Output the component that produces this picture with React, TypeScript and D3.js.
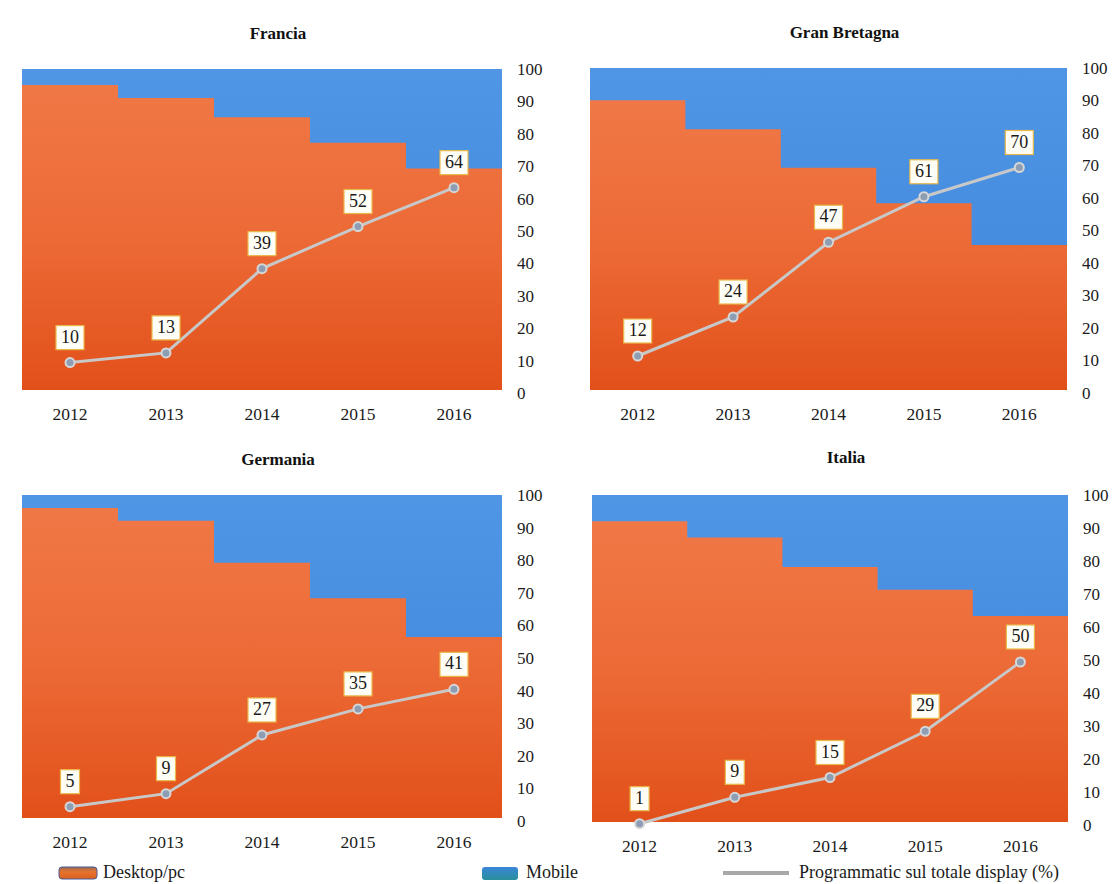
import React from "react";
import * as d3 from "d3";

const years = ["2012", "2013", "2014", "2015", "2016"];
const yTicks = [0, 10, 20, 30, 40, 50, 60, 70, 80, 90, 100];

const franciaDesktop = [95, 91, 85, 77, 69];
const franciaProg = [10, 13, 39, 52, 64];
const gbDesktop = [90, 81, 69, 58, 45];
const gbProg = [12, 24, 47, 61, 70];
const germaniaDesktop = [96, 92, 79, 68, 56];
const germaniaProg = [5, 9, 27, 35, 41];
const italiaDesktop = [92, 87, 78, 71, 63];
const italiaProg = [1, 9, 15, 29, 50];

const legendLabels = ["Desktop/pc", "Mobile", "Programmatic sul totale display (%)"];

const panels = [
  { title: "Francia", desktop: franciaDesktop, prog: franciaProg, x: 22, y: 69, w: 480, h: 321, titleY: 35 },
  { title: "Gran Bretagna", desktop: gbDesktop, prog: gbProg, x: 590, y: 68, w: 477, h: 322, titleY: 34 },
  { title: "Germania", desktop: germaniaDesktop, prog: germaniaProg, x: 22, y: 495, w: 480, h: 323, titleY: 461 },
  { title: "Italia", desktop: italiaDesktop, prog: italiaProg, x: 592, y: 495, w: 476, h: 327, titleY: 459 },
];

const FONT = "'Liberation Serif', 'Times New Roman', serif";

function Panel({ p }: { p: any }) {
  const x = d3.scaleBand<string>().domain(years).range([p.x, p.x + p.w]).padding(0);
  const yArea = d3.scaleLinear().domain([0, 100]).range([p.y + p.h, p.y]);
  const yLine = d3.scaleLinear().domain([0, 100]).range([p.y + p.h + 5, p.y + 2]);
  const cx = (yr: string) => (x(yr) as number) + x.bandwidth() / 2;
  const line = d3
    .line<number>()
    .x((_, i) => cx(years[i]))
    .y((v) => yLine(v));
  const stepPts: [number, number][] = [];
  years.forEach((yr, i) => {
    const x0 = x(yr) as number;
    stepPts.push([x0, p.desktop[i]]);
    stepPts.push([x0 + x.bandwidth(), p.desktop[i]]);
  });
  const area = d3
    .area<[number, number]>()
    .x((d) => d[0])
    .y0(yArea(0))
    .y1((d) => yArea(d[1]));
  const right = p.x + p.w;
  return (
    <g>
      <text
        x={p.x + p.w / 2 + 16}
        y={p.titleY}
        textAnchor="middle"
        dominantBaseline="middle"
        fontFamily={FONT}
        fontWeight="bold"
        fontSize={17}
        fill="#111"
      >
        {p.title}
      </text>
      <rect x={p.x} y={yArea(100)} width={p.w} height={yArea(0) - yArea(100)} fill="url(#gradBlue)" />
      <path d={area(stepPts) || ""} fill="url(#gradOrange)" />
      <path d={line(p.prog) || ""} fill="none" stroke="#c8c8c8" strokeWidth={3} />
      {p.prog.map((v: number, i: number) => (
        <circle key={i} cx={cx(years[i])} cy={yLine(v)} r={4.5} fill="#8d9db3" stroke="#d6d6d6" strokeWidth={2} />
      ))}
      {p.prog.map((v: number, i: number) => {
        const s = String(v);
        const bw = s.length === 1 ? 19 : 28;
        const bh = 24;
        const by = yLine(v) - 25;
        return (
          <g key={"l" + i}>
            <rect
              x={cx(years[i]) - bw / 2}
              y={by - bh / 2}
              width={bw}
              height={bh}
              fill="#fffef6"
              stroke="#e9b84a"
              strokeWidth={1.2}
            />
            <text
              x={cx(years[i])}
              y={by + 1}
              textAnchor="middle"
              dominantBaseline="middle"
              fontFamily={FONT}
              fontSize={18}
              fill="#1a1a1a"
            >
              {s}
            </text>
          </g>
        );
      })}
      {years.map((yr) => (
        <text
          key={"x" + yr}
          x={cx(yr)}
          y={p.y + p.h + 26}
          textAnchor="middle"
          dominantBaseline="middle"
          fontFamily={FONT}
          fontSize={17.5}
          fill="#1a1a1a"
        >
          {yr}
        </text>
      ))}
      {yTicks.map((t) => (
        <text
          key={"y" + t}
          x={right + 15}
          y={yLine(t)}
          textAnchor="start"
          dominantBaseline="middle"
          fontFamily={FONT}
          fontSize={17}
          fill="#1a1a1a"
        >
          {t}
        </text>
      ))}
    </g>
  );
}

export default function App() {
  return (
    <svg
      width={1112}
      height={884}
      style={{ position: "absolute", left: 0, top: 0, display: "block", background: "#fff" }}
    >
      <defs>
        <linearGradient id="gradOrange" x1="0" y1="0" x2="0" y2="1">
          <stop offset="0%" stopColor="#f07846" />
          <stop offset="50%" stopColor="#ec6a36" />
          <stop offset="100%" stopColor="#e2501a" />
        </linearGradient>
        <linearGradient id="gradBlue" x1="0" y1="0" x2="0" y2="1">
          <stop offset="0%" stopColor="#5096e5" />
          <stop offset="100%" stopColor="#3d84da" />
        </linearGradient>
        <linearGradient id="legOrange" x1="0" y1="0" x2="0" y2="1">
          <stop offset="0%" stopColor="#9a6a50" />
          <stop offset="40%" stopColor="#e8732e" />
          <stop offset="100%" stopColor="#d9601e" />
        </linearGradient>
        <linearGradient id="legBlue" x1="0" y1="0" x2="0" y2="1">
          <stop offset="0%" stopColor="#3a86d8" />
          <stop offset="100%" stopColor="#2a8f9a" />
        </linearGradient>
      </defs>
      <rect x={0} y={0} width={1112} height={884} fill="#ffffff" />
      {panels.map((p) => (
        <Panel key={p.title} p={p} />
      ))}
      <g>
        <rect x={59} y={867} width={38} height={12} rx={3} fill="url(#legOrange)" stroke="#4a5a9a" strokeWidth={1} />
        <text x={103} y={874} dominantBaseline="middle" fontFamily={FONT} fontSize={18} fill="#1a1a1a">
          {legendLabels[0]}
        </text>
        <rect x={482} y={867} width={36} height={13} rx={3} fill="url(#legBlue)" />
        <text x={526} y={874} dominantBaseline="middle" fontFamily={FONT} fontSize={18} fill="#1a1a1a">
          {legendLabels[1]}
        </text>
        <line x1={723} x2={789} y1={873} y2={873} stroke="#a8a8a8" strokeWidth={4} />
        <text x={799} y={874} dominantBaseline="middle" fontFamily={FONT} fontSize={18} fill="#1a1a1a">
          {legendLabels[2]}
        </text>
      </g>
    </svg>
  );
}
